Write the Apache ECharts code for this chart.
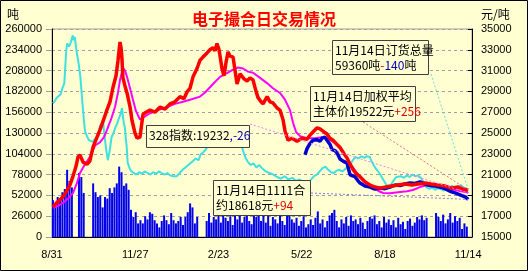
<!DOCTYPE html>
<html><head><meta charset="utf-8">
<script src="https://cdn.jsdelivr.net/npm/echarts@6/dist/echarts.min.js"></script>
<style>html,body{margin:0;padding:0;background:#FFFFD2}#c{width:528px;height:271px}</style>
</head><body><div id="c"></div><script>
// ---- data ----
const dateLabels = ['8/31', '11/27', '2/23', '5/22', '8/18', '11/14'];   // day 0, 88, 176, 264, 352, 440
const volumeStartDay = 1, volumeStepDays = 2.5;
const volume = [46000,40000,50000,45000,56000,60000,84000,70000,62000,0,0,80000,75000,55000,0,0,0,67000,56000,50000,
52000,37000,50000,48000,61000,55000,62000,67000,88000,81000,64000,67000,59000,34000,25000,31000,17000,21000,17000,26000,
22000,31000,29000,21000,17000,12000,20000,27000,21000,16000,30000,21000,17000,20000,25000,15000,25000,31000,42000,37000,
17000,25000,0,0,0,20000,30000,18000,25000,22000,28000,18000,32000,24000,20000,26000,15000,30000,22000,28000,
18000,25000,31000,20000,16000,37000,25000,34000,20000,28000,18000,30000,14000,25000,22000,17000,32000,20000,15000,28000,
37000,22000,18000,24000,14000,20000,26000,12000,16000,22000,15000,24000,32000,17000,22000,12000,20000,27000,30000,34000,
20000,12000,22000,17000,25000,14000,27000,20000,22000,16000,24000,18000,10000,20000,25000,23000,27000,16000,20000,12000,
25000,18000,22000,15000,21000,12000,24000,16000,19000,10000,20000,23000,14000,18000,25000,22000,27000,21000,24000,0,
0,0,30000,25000,20000,28000,17000,22000,30000,18000,26000,20000,24000,10000,17000,13000];
// 订货总量 (吨) [day, value]
const orderTotal = [[1,167000],[3,170000],[5,174000],[7,172000],[9,178000],[11,186000],[13,192000],[14,212000],[15,232000],[16,242000],[18,238000],[20,244000],[22,252000],[23,246000],[24,250000],[26,232000],[28,218000],[30,200000],[32,170000],[34,142000],[35,132000],[37,126000],[39,121000],[41,123000],[43,119000],[45,122000],[47,120000],[49,126000],[51,140000],[52,136000],[54,146000],[55,132000],[57,112000],[59,96000],[61,108000],[63,125000],[65,130000],[67,137000],[69,142000],[70,146000],[72,152000],[74,161000],[75,150000],[76,142000],[77,137000],[79,112000],[80,93000],[82,86000],[84,82000],[86,80000],[89,78000],[92,81000],[95,79000],[98,82000],[101,80000],[104,78000],[107,81000],[110,79000],[113,82000],[116,80000],[119,78000],[122,80000],[125,77000],[128,76000],[130,74000],[132,76000],[135,80000],[138,84000],[141,87000],[143,85000],[146,92000],[149,95000],[152,98000],[155,96000],[157,103000],[160,106000],[163,110000],[166,116000],[168,114000],[170,122000],[172,127000],[174,125000],[176,128000],[178,124000],[181,122000],[184,126000],[187,120000],[190,123000],[193,121000],[196,124000],[199,118000],[201,112000],[203,104000],[205,98000],[207,94000],[210,90000],[213,92000],[216,87000],[219,90000],[222,86000],[226,82000],[230,80000],[234,78000],[238,75000],[242,73000],[246,76000],[250,72000],[254,74000],[258,70000],[262,72000],[266,68000],[270,67000],[274,72000],[277,76000],[280,78000],[283,82000],[286,86000],[289,88000],[292,84000],[295,81000],[298,80000],[301,83000],[304,84000],[307,82000],[310,85000],[313,88000],[316,92000],[318,96000],[321,100000],[324,98000],[327,101000],[330,99000],[333,101000],[336,100000],[338,94000],[340,90000],[342,86000],[344,84000],[346,80000],[348,76000],[350,72000],[352,68000],[354,64000],[356,63000],[358,65000],[360,67000],[362,72000],[364,75000],[366,73000],[369,76000],[372,74000],[375,77000],[378,75000],[381,78000],[384,76000],[387,77000],[390,74000],[393,68000],[396,62000],[399,60000],[402,62000],[405,59000],[408,61000],[411,60000],[414,58000],[417,60000],[420,62000],[423,64000],[426,61000],[429,63000],[432,65000],[435,62000],[437,64000],[440,59360]];
// 加权平均主体价 (元/吨)
const weightedPrice = [[1,17900],[5,18300],[8.5,18560],[12.7,19000],[16,19500],[19,20000],[22,20800],[25.4,21800],[27.5,22700],[29.6,22900],[32.8,22200],[37,22000],[40,22300],[43.4,23650],[47.6,24600],[50.7,25300],[55,26400],[58,27200],[61.3,28000],[64.5,29400],[67.7,30500],[69.8,32000],[71.9,33750],[73,33200],[74,32100],[75,30300],[77.2,29500],[79.3,28850],[82.5,27500],[84.6,26200],[87.7,25000],[89.9,24500],[93,24600],[96.2,26800],[99.4,27000],[103.6,27200],[108.9,27000],[114.2,27500],[119.5,27300],[124.7,27800],[130,28000],[135.3,28500],[139.5,28300],[142.7,28950],[145.9,29300],[149.1,30400],[153.3,31200],[156.5,32000],[159.6,32300],[163.9,32700],[167,33000],[170.2,33200],[172.3,32900],[174.4,33600],[176.6,33000],[179.7,31200],[181.8,30500],[184,31800],[186.1,32800],[188.2,32400],[191.4,32300],[193.5,31000],[195.6,29700],[198.8,30700],[203,30200],[206.2,30000],[209.3,30300],[212.5,30100],[215.7,29000],[217.8,28400],[221,28000],[223.1,27800],[227.4,28500],[230.5,28000],[233.6,27900],[237.9,27400],[241,27200],[244.2,26300],[246.3,25200],[249.5,24300],[253.7,24500],[259,24200],[264.3,24500],[269.6,24400],[272.8,24800],[275.9,25100],[280.2,25500],[283.3,25400],[287.6,25100],[290.7,24900],[293.9,24500],[297.1,24300],[301.3,23900],[304.5,23600],[308.7,23000],[311.9,22600],[315,22000],[318.2,21500],[321.4,21100],[325.6,20800],[330.9,20300],[336.2,20000],[341.5,19800],[346.8,19700],[353.1,19800],[359.4,19900],[365.8,20000],[373.2,20100],[380.6,20000],[386.9,20100],[394.3,20200],[400.7,20100],[408,20000],[415.5,19900],[421.8,19700],[429.2,19800],[434.5,19600],[440,19522]];
// 328指数
const index328 = [[1,17800],[6.3,18000],[11.6,18270],[16.9,18700],[22.2,19230],[26.4,20200],[29.6,21150],[34.9,22000],[40.2,22700],[45.5,23800],[50.7,24100],[55,24600],[58.1,25300],[62.4,26300],[66.6,27500],[69.8,28900],[71.9,30100],[74,30900],[75,31250],[77.2,31000],[79.3,30400],[82.5,29300],[85.6,28200],[88.8,27100],[93,26300],[98.3,26600],[103.6,26900],[112.1,27200],[121.6,27500],[130,27800],[138.5,28000],[145.9,28200],[156.5,28500],[161.8,28900],[167,29400],[172.3,29900],[177.6,30400],[184,30700],[191.4,31100],[196.6,31300],[201.9,31200],[207.2,30900],[212.5,30800],[219.9,30300],[227.3,29800],[233.6,29300],[241,28850],[246.3,28200],[251.6,27200],[254.8,26000],[258,25100],[262.2,24700],[269.6,24500],[278,24500],[285.4,24600],[290.7,24500],[298.1,24100],[304.5,23650],[309.8,22900],[315,22100],[320.3,21400],[325.6,20800],[332,20300],[339.4,19800],[344.7,19450],[350,19230],[357.3,19200],[367.9,19330],[375.3,19400],[381.6,19520],[389,19800],[396.4,20000],[403.8,19900],[411.3,19750],[417.6,19700],[426,19550],[432.4,19400],[438.8,19300],[440,19232]];
// 1111合约
const contract1111 = [[267.5,22900],[269.6,23500],[272.8,24000],[275.9,24300],[280.2,24350],[283.3,24200],[285.4,24500],[288.6,24600],[290.7,24300],[293.9,23900],[296,23400],[299.2,23300],[301.3,23100],[304.5,22500],[307.7,22300],[311.9,22100],[315,21000],[317.2,20900],[320.3,20800],[323.5,20400],[325.6,20200],[330.9,19900],[336.2,19800],[341.5,19600],[346.8,19700],[352,19650],[357.3,19800],[362.6,20000],[367.9,19950],[373.2,20100],[378.5,20200],[383.8,20150],[389,20300],[394.3,20100],[399.6,19950],[404.9,19900],[410.2,19800],[415.5,19650],[420.8,19400],[426.1,19250],[431.4,19050],[436.7,18850],[440,18618]];

// ---- chart ----
const BG = '#FFFFD2';
const FONT = '"Noto Sans CJK SC", sans-serif';
const chart = echarts.init(document.getElementById('c'), null, {renderer: 'canvas'});
const red = {fill: '#E00000', fontSize: 12, fontFamily: FONT};
const blue = {fill: '#0000B0', fontSize: 12, fontFamily: FONT};
function box(id, x, y, w, h, text) {
  return {
    type: 'group', id: id, x: x, y: y, z: 100,
    children: [
      {type: 'rect', shape: {x: 0.5, y: 0.5, width: w, height: h},
       style: {fill: BG, stroke: '#404040', lineWidth: 1}, z: 100},
      {type: 'text', x: 3, y: 3, z: 101,
       style: {text: text, fill: '#000', fontSize: 12, fontFamily: FONT, lineHeight: 15,
               rich: {r: red, b: blue}}}
    ]
  };
}
chart.setOption({
  animation: false,
  backgroundColor: BG,
  title: {text: '电子撮合日交易情况', left: 'center', top: 6,
          textStyle: {color: '#FF0000', fontSize: 16, fontWeight: 'bold', fontFamily: FONT}},
  grid: {left: 52, right: 56, top: 29, bottom: 34, show: true, borderColor: '#A0A0A0', borderWidth: 1, backgroundColor: 'transparent'},
  xAxis: {type: 'value', min: 0, max: 444, interval: 88,
    axisLine: {show: true, onZero: false, lineStyle: {color: '#000'}},
    axisTick: {show: false}, splitLine: {show: false},
    axisLabel: {margin: 12, color: '#000', fontSize: 11, fontFamily: 'Liberation Sans',
      formatter: v => (v % 88 === 0 ? dateLabels[v / 88] : '')}},
  yAxis: [
    {type: 'value', min: 0, max: 260000, interval: 26000, position: 'left',
     axisLine: {show: true, lineStyle: {color: '#000'}},
     axisTick: {show: true, length: 6, lineStyle: {color: '#A0A0A0'}},
     splitLine: {show: true, lineStyle: {color: '#A0A0A0', type: [3, 3]}},
     axisLabel: {margin: 10, color: '#000', fontSize: 11, fontFamily: 'Liberation Sans', formatter: v => String(v)}},
    {type: 'value', min: 15000, max: 35000, interval: 2000, position: 'right',
     axisLine: {show: true, lineStyle: {color: '#000'}},
     axisTick: {show: true, inside: true, length: 4, lineStyle: {color: '#000'}},
     splitLine: {show: false},
     axisLabel: {margin: 9, color: '#000', fontSize: 11, fontFamily: 'Liberation Sans', formatter: v => String(v)}}
  ],
  series: [
    {type: 'bar', yAxisIndex: 0, barWidth: 2, z: 1, itemStyle: {color: '#0000EE'},
     data: volume.map((v, i) => [volumeStartDay + i * volumeStepDays, v])},
    {type: 'line', yAxisIndex: 0, symbol: 'none', z: 2, data: orderTotal, lineStyle: {color: '#40E0E0', width: 2}},
    {type: 'line', yAxisIndex: 1, symbol: 'none', z: 3, data: index328, lineStyle: {color: '#FF00FF', width: 2}},
    {type: 'line', yAxisIndex: 1, symbol: 'none', z: 4, data: contract1111, lineStyle: {color: '#0000D0', width: 3.5}},
    {type: 'line', yAxisIndex: 1, symbol: 'none', z: 5, data: weightedPrice, lineStyle: {color: '#FF0000', width: 3.5}}
  ],
  graphic: [
    {type: 'rect', id: 'frame', z: 200, shape: {x: 0.5, y: 0.5, width: 527, height: 270}, style: {fill: 'none', stroke: '#000', lineWidth: 1}},
    {type: 'text', id: 'unitL', x: 7, y: 8, style: {text: '吨', fill: '#000', fontSize: 12, fontFamily: FONT}},
    {type: 'text', id: 'unitR', x: 481, y: 8, style: {text: '元/吨', fill: '#000', fontSize: 12, fontFamily: FONT}},
    box('b1', 332, 40, 96, 34, '11月14日订货总量\n59360吨{r|-}{b|140}吨'),
    box('b2', 310, 86, 105, 35, '11月14日加权平均\n主体价19522元{r|+256}'),
    box('b3', 146, 125, 103, 22, '328指数:19232{b|,-26}'),
    box('b4', 213, 180, 97, 35, '11月14日1111合\n约18618元{r|+94}')
  ]
});
const last = a => a[a.length - 1];
const px = (yi, p) => chart.convertToPixel({xAxisIndex: 0, yAxisIndex: yi}, p);
const pC = px(0, last(orderTotal)), pR = px(1, last(weightedPrice)), pM = px(1, last(index328)), pB = px(1, last(contract1111));
const lead = (id, x1, y1, p, color) => ({type: 'line', id: id, z: 90,
  shape: {x1: x1, y1: y1, x2: p[0], y2: p[1]}, style: {stroke: color, lineWidth: 1, lineDash: [2, 2]}});
chart.setOption({graphic: [
  lead('l1', 431, 74, pC, '#70DADA'),
  lead('l2', 363, 122, pR, '#E87070'),
  lead('l3', 250, 124, pM, '#F080F0'),
  lead('l4', 311, 193, pB, '#8080E0')
]});
</script></body></html>
